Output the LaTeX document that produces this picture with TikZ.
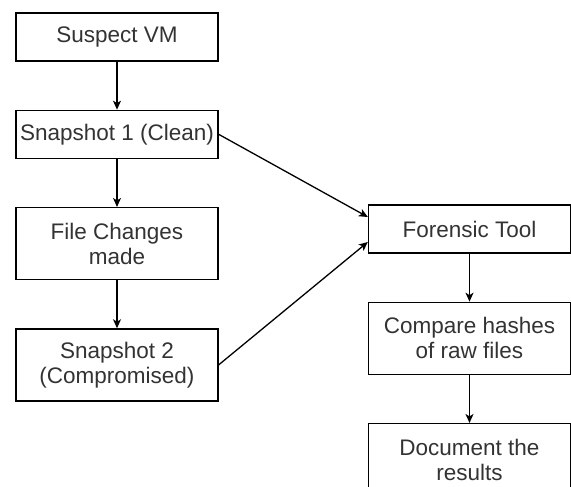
\documentclass[tikz,border=0pt]{standalone}
\usepackage{fontspec}
\setmainfont{Liberation Sans}
\usetikzlibrary{arrows.meta, positioning}
\definecolor{txtgray}{RGB}{51,51,51}

\begin{document}
\begin{tikzpicture}[x = 1pt, y = -1pt, % pixel grid, origin top left
                > = {Stealth[length = 9pt, width = 8pt, inset = 2.5pt]}, % arrow head style
                node distance = 48pt, % gap between boxes
                line width = 1.3pt % line style
            ]

            \tikzstyle{every node}=[draw = black, rectangle, inner sep = 0pt,
            align = center, minimum width = 202pt, minimum height = 48pt,
            text = txtgray, font = \fontsize{22.5}{25}\selectfont]
            \tikzstyle{tall}=[minimum height = 72pt]

            \useasboundingbox (0,0) rectangle (571,487);

            \node (vm) at (117,37) {Suspect VM}; \node (snapA) [below=of vm]
            {Snapshot 1 (Clean)}; \node (change) [tall, below=of snapA] {File
                Changes\\made}; \node (snapB) [tall, below=of change] {Snapshot
                2\\(Compromised)};

            \node (tool) at (469.5,229) {Forensic Tool}; \node (hash) [tall,
                below=of tool] {Compare hashes\\of raw files}; \node (report)
            [tall, below=of hash] {Document the\\results};

            \path[->] (vm) edge (snapA); \path[->] (snapA) edge (change);
            \path[->] (change) edge (snapB); \path[->] (tool) edge (hash);
            \path[->] (hash) edge (report);
            \path[->] (snapA.east) edge ([yshift=12pt]tool.west);
            \path[->] (snapB.east) edge ([yshift=-13pt]tool.west);
        \end{tikzpicture}
\end{document}
